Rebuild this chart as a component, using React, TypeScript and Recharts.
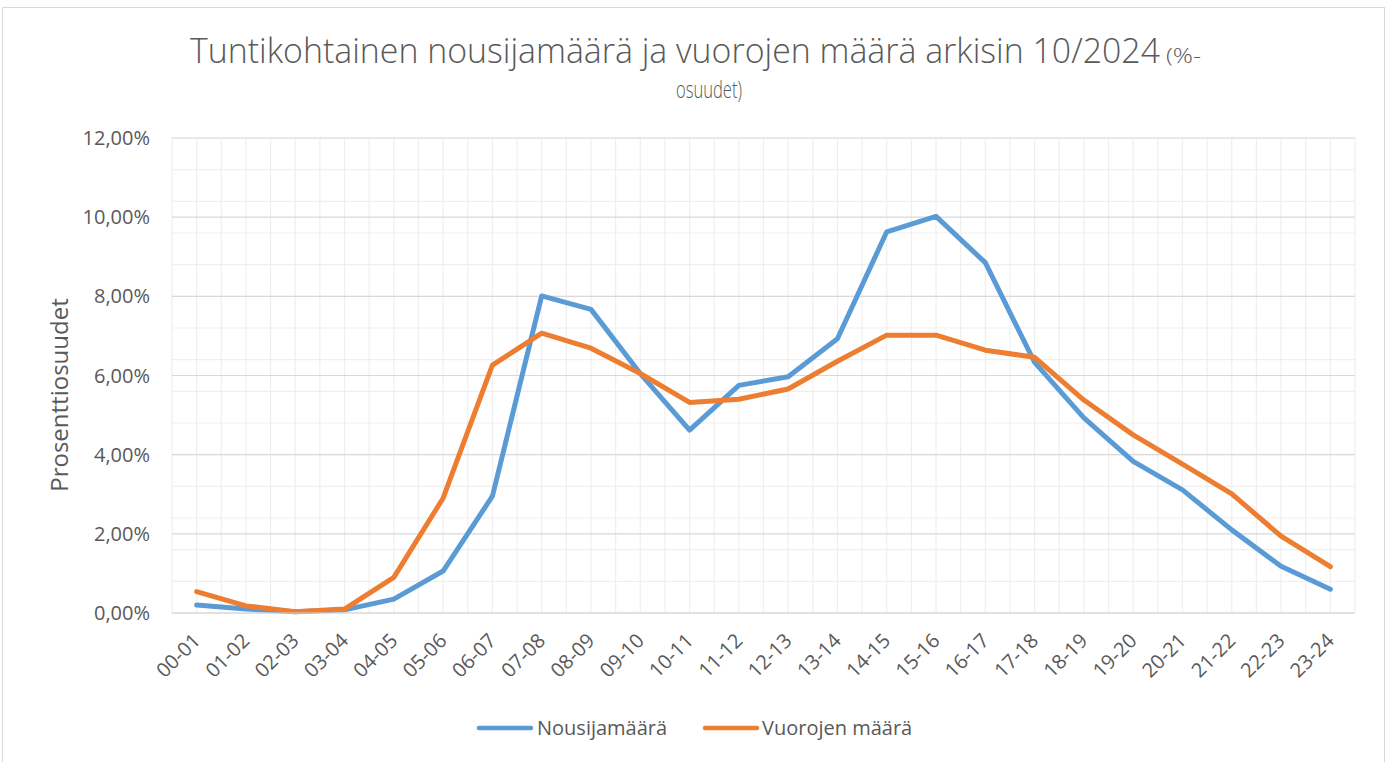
import { LineChart, Line, XAxis, YAxis, CartesianGrid } from 'recharts';

const HOURS = [
  '00-01', '01-02', '02-03', '03-04', '04-05', '05-06', '06-07', '07-08',
  '08-09', '09-10', '10-11', '11-12', '12-13', '13-14', '14-15', '15-16',
  '16-17', '17-18', '18-19', '19-20', '20-21', '21-22', '22-23', '23-24',
];

// % shares per hour
const NOUSIJAT = [
  0.2, 0.1, 0.03, 0.08, 0.35, 1.06, 2.95, 8.01,
  7.67, 6.05, 4.62, 5.75, 5.97, 6.93, 9.63, 10.02,
  8.85, 6.33, 4.93, 3.83, 3.11, 2.1, 1.18, 0.6,
];
const VUOROT = [
  0.54, 0.18, 0.03, 0.1, 0.9, 2.9, 6.26, 7.07,
  6.69, 6.05, 5.32, 5.4, 5.66, 6.36, 7.02, 7.02,
  6.64, 6.46, 5.38, 4.5, 3.76, 3.01, 1.94, 1.17,
];

const Y_TICKS = [0, 2, 4, 6, 8, 10, 12];
const Y_MINOR = Array.from({ length: 31 }, (_, k) => +(k * 0.4).toFixed(1));
const X_MINOR = Array.from({ length: 49 }, (_, k) => -0.5 + k * 0.5);

const data = HOURS.map((hour, i) => ({ i, hour, nousijat: NOUSIJAT[i], vuorot: VUOROT[i] }));

const TEXT = '#595959';
const FONT = '"Open Sans", sans-serif';
const BLUE = '#5b9bd5';
const ORANGE = '#ed7d31';

const pctLabel = (v: number) => `${v.toFixed(2).replace('.', ',')}%`;

function HourTick({ x, y, payload }: any) {
  return (
    <g transform={`translate(${x},${y + 16}) rotate(-45)`}>
      <text x={0} y={0} dy="0.35em" textAnchor="end" fill={TEXT} fontSize={20} fontFamily={FONT}>
        {HOURS[payload.value]}
      </text>
    </g>
  );
}

export default function App() {
  return (
    <div style={{ position: 'absolute', left: 0, top: 0, width: 1391, height: 762, background: '#fff', overflow: 'hidden' }}>
      <div style={{ position: 'absolute', left: 2, top: 7, width: 1381, height: 770, border: '1px solid #d9d9d9' }} />
      <div style={{ position: 'absolute', left: 0, top: 0 }}>
        <LineChart width={1391} height={762} data={data} margin={{ top: 138, right: 36, bottom: 0, left: 0 }}>
          <CartesianGrid horizontalValues={Y_MINOR} verticalValues={X_MINOR} stroke="#efefef" strokeWidth={1.2} />
          <CartesianGrid vertical={false} horizontalValues={Y_TICKS} stroke="#d9d9d9" strokeWidth={1.2} />
          <XAxis
            dataKey="i"
            type="number"
            domain={[-0.5, 23.5]}
            ticks={HOURS.map((_, i) => i)}
            interval={0}
            height={149}
            tick={<HourTick />}
            tickLine={false}
            axisLine={{ stroke: '#d9d9d9', strokeWidth: 1.2 }}
          />
          <YAxis
            width={172}
            domain={[0, 12]}
            ticks={Y_TICKS}
            tickFormatter={pctLabel}
            tick={{ fill: TEXT, fontSize: 20, fontFamily: FONT }}
            tickLine={false}
            axisLine={false}
            tickSize={0}
            tickMargin={22}
          />
          <Line type="linear" dataKey="nousijat" name="Nousijamäärä" stroke={BLUE} strokeWidth={5} strokeLinecap="round" strokeLinejoin="round" dot={false} isAnimationActive={false} />
          <Line type="linear" dataKey="vuorot" name="Vuorojen määrä" stroke={ORANGE} strokeWidth={5} strokeLinecap="round" strokeLinejoin="round" dot={false} isAnimationActive={false} />
        </LineChart>
      </div>
      <svg width={1391} height={762} style={{ position: 'absolute', left: 0, top: 0, pointerEvents: 'none' }} fontFamily={FONT}>
        <text x={190} y={63} fontSize={34} fontWeight={300} fill={TEXT} textLength={970} lengthAdjust="spacingAndGlyphs">
          Tuntikohtainen nousijamäärä ja vuorojen määrä arkisin 10/2024
        </text>
        <text x={1166} y={63} fontSize={21} fontWeight={300} fill={TEXT} textLength={35} lengthAdjust="spacingAndGlyphs">(%-</text>
        <text x={709} y={98} fontSize={23} fontWeight={300} fill={TEXT} textAnchor="middle" textLength={66} lengthAdjust="spacingAndGlyphs">osuudet)</text>
        <text transform="translate(60,395) rotate(-90)" textAnchor="middle" dy="0.35em" fontSize={24} fill={TEXT}>
          Prosenttiosuudet
        </text>
        <line x1={479} y1={728} x2={531} y2={728} stroke={BLUE} strokeWidth={4.5} strokeLinecap="round" />
        <text x={537} y={735} fontSize={20} fill={TEXT}>Nousijamäärä</text>
        <line x1={705} y1={728} x2={757} y2={728} stroke={ORANGE} strokeWidth={4.5} strokeLinecap="round" />
        <text x={762} y={735} fontSize={20} fill={TEXT}>Vuorojen määrä</text>
      </svg>
    </div>
  );
}
